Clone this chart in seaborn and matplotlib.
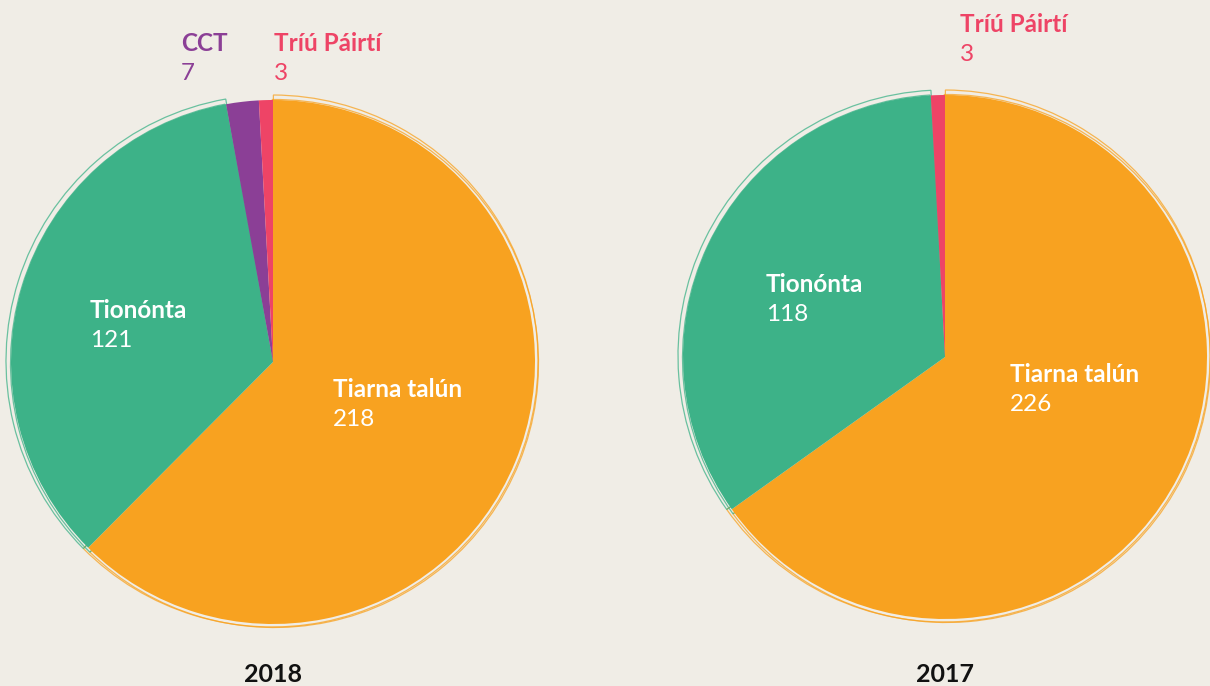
import matplotlib.pyplot as plt
import seaborn as sns

# data
groups_2018 = ['Tiarna talún', 'Tionónta', 'CCT', 'Tríú Páirtí']
seats_2018 = [218, 121, 7, 3]
groups_2017 = ['Tiarna talún', 'Tionónta', 'Tríú Páirtí']
seats_2017 = [226, 118, 3]

colors = {'Tiarna talún': '#f8a220', 'Tionónta': '#3db288',
          'CCT': '#8b3f96', 'Tríú Páirtí': '#ee4466'}
bg = '#f0ede6'

sns.set_theme(style='white')
plt.rcParams['font.family'] = ['Lato', 'DejaVu Sans']

fig = plt.figure(figsize=(12.1, 6.86), dpi=100, facecolor=bg)
ax = fig.add_axes([0, 0, 1, 1])
ax.set_facecolor(bg)

H = 686


def draw_pie(center, radius, names, values):
    cols = [colors[n] for n in names]
    # sketchy double outline, hugging the pie
    for dr, dx, dy, da in [(2, 1.5, -1.5, 0.5), (4, -1, 1, -0.3)]:
        w, _ = ax.pie(values, colors=cols, startangle=90 + da, counterclock=False,
                      center=(center[0] + dx, center[1] + dy), radius=radius + dr,
                      wedgeprops=dict(fill=False, linewidth=0.9), frame=True)
        for wedge, c, v in zip(w, cols, values):
            wedge.set_edgecolor(c)
            wedge.set_alpha(0.75)
            if v < 10:
                wedge.set_visible(False)
    ax.pie(values, colors=cols, startangle=90, counterclock=False,
           center=center, radius=radius,
           wedgeprops=dict(linewidth=0), frame=True)


draw_pie((273, H - 362), 262, groups_2018, seats_2018)
draw_pie((945, H - 357), 262, groups_2017, seats_2017)

ax.set_xlim(0, 1210)
ax.set_ylim(0, 686)
ax.set_aspect('equal')
ax.axis('off')


def label(x, y, name, value, color):
    ax.text(x, H - y, name, color=color, fontsize=17.5, fontweight='bold',
            ha='left', va='baseline')
    ax.text(x, H - y - 29, str(value), color=color, fontsize=17.5,
            ha='left', va='baseline')


label(333, 397, groups_2018[0], seats_2018[0], 'white')
label(90, 318, groups_2018[1], seats_2018[1], 'white')
label(181, 51, groups_2018[2], seats_2018[2], colors['CCT'])
label(274, 51, groups_2018[3], seats_2018[3], colors['Tríú Páirtí'])

label(1010, 382, groups_2017[0], seats_2017[0], 'white')
label(766, 292, groups_2017[1], seats_2017[1], 'white')
label(960, 32, groups_2017[2], seats_2017[2], colors['Tríú Páirtí'])

ax.text(273, H - 682, '2018', color='#111111', fontsize=18, fontweight='bold',
        ha='center', va='baseline')
ax.text(945, H - 682, '2017', color='#111111', fontsize=18, fontweight='bold',
        ha='center', va='baseline')

fig.savefig('out.png', dpi=100, facecolor=bg)
